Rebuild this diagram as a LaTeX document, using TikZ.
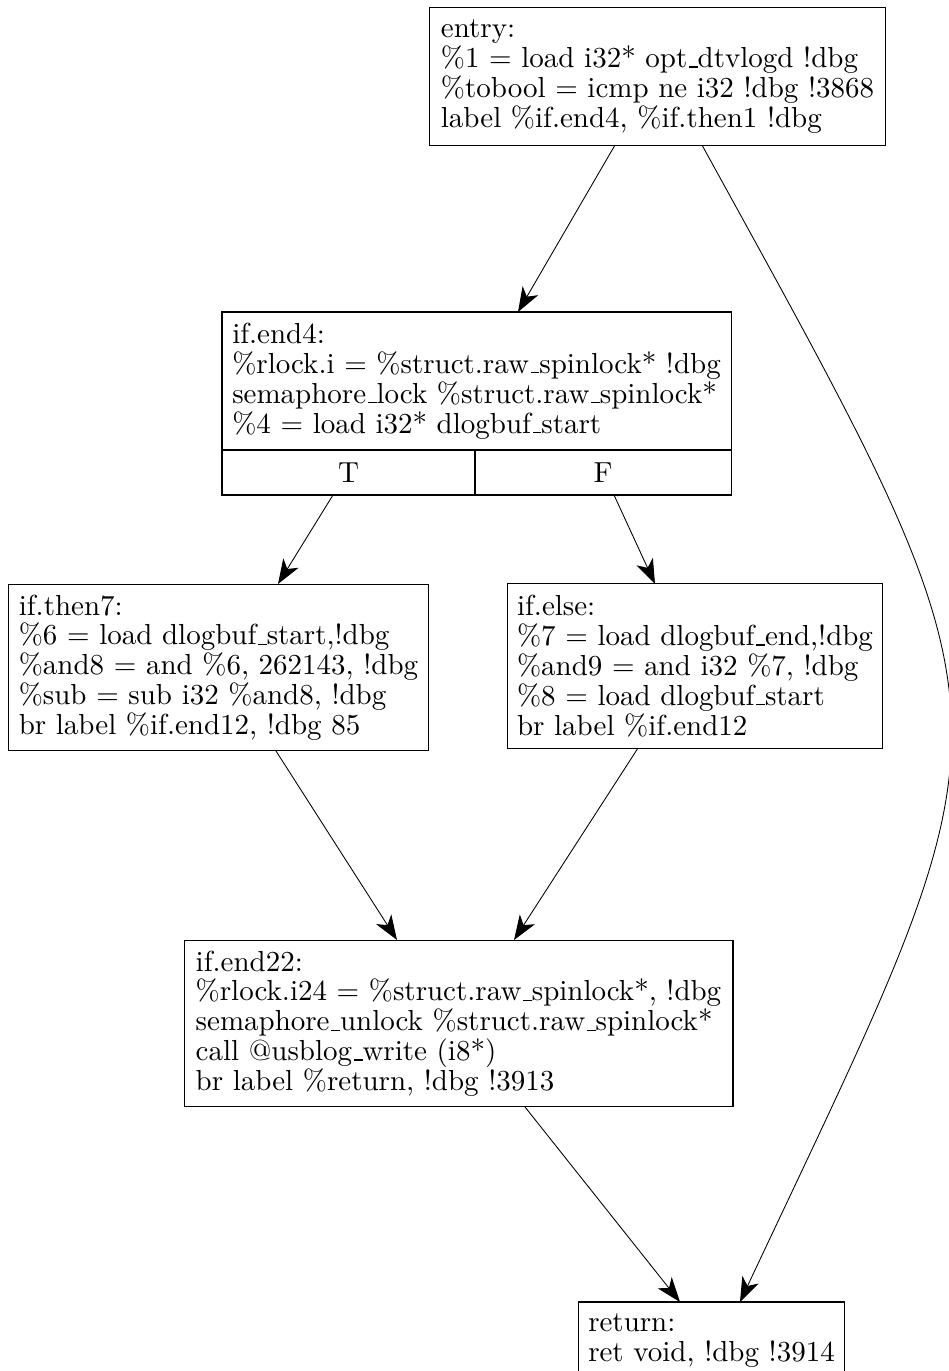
\documentclass[tikz,border=0pt]{standalone}
\usetikzlibrary{arrows.meta,calc}
% short underscore rule sitting on the baseline
\newcommand{\usc}{\leavevmode\kern.06em\vbox{\hrule width.3em}}
\begin{document}
\begin{tikzpicture}[x=0.345pt,y=-0.345pt,
  blk/.style={draw, line width=0.35pt, align=left, inner sep=0pt, outer sep=0pt,
    font=\fontsize{10}{10.3}\selectfont},
  cell/.style={draw, line width=0.35pt, inner sep=0pt, outer sep=0pt,
    font=\fontsize{10}{10.3}\selectfont},
  flow/.style={line width=0.3pt, -{Stealth[length=8.5pt,width=6.2pt,inset=2.4pt]}}
]
\useasboundingbox (0,0) rectangle (948,1371);

% basic blocks of the control-flow graph
\node[blk, minimum width=157pt, minimum height=47.3pt] (entry) at (657.5,76.5)
  {entry:\\
   \%1 = load i32* opt\usc dtvlogd !dbg\\
   \%tobool = icmp ne i32 !dbg !3868\\
   label \%if.end4, \%if.then1 !dbg};

\node[blk, minimum width=175.605pt, minimum height=47.61pt] (endfour) at (476.5,381)
  {if.end4:\\
   \%rlock.i = \%struct.raw\usc spinlock* !dbg\\
   semaphore\usc lock \%struct.raw\usc spinlock*\\
   \%4 = load i32* dlogbuf\usc start};
% true / false branch cells under the if.end4 block
\node[cell, minimum width=87.285pt, minimum height=15.525pt, anchor=north west]
  (tcell) at (endfour.south west) {T};
\node[cell, minimum width=88.32pt, minimum height=15.525pt, anchor=north west]
  (fcell) at (tcell.north east) {F};

\node[blk, minimum width=145.2pt, minimum height=57.6pt] (then) at (218.5,667.5)
  {if.then7:\\
   \%6 = load dlogbuf\usc start,!dbg\\
   \%and8 = and \%6, 262143, !dbg\\
   \%sub = sub i32 \%and8, !dbg\\
   br label \%if.end12, !dbg 85};

\node[blk, minimum width=129.7pt, minimum height=56.6pt] (else) at (695,666)
  {if.else:\\
   \%7 = load dlogbuf\usc end,!dbg\\
   \%and9 = and i32 \%7, !dbg\\
   \%8 = load dlogbuf\usc start\\
   br label \%if.end12};

\node[blk, minimum width=189.4pt, minimum height=57.6pt] (join) at (458.5,1023.5)
  {if.end22:\\
   \%rlock.i24 = \%struct.raw\usc spinlock*, !dbg\\
   semaphore\usc unlock \%struct.raw\usc spinlock*\\
   call @usblog\usc write (i8*)\\
   br label \%return, !dbg !3913};

\node[blk, minimum width=92.1pt, minimum height=26.4pt] (ret) at (711.5,1340.25)
  {return:\\
   ret void, !dbg !3914};

% control-flow edges
\draw[flow] ($(entry.south)+(-42.5,0)$) -- ($(endfour.north)+(41.5,0)$);
\draw[flow] ($(entry.south)+(44.5,0)$)
  .. controls (1032,745) and (1022,702) .. ($(ret.north)+(28.5,0)$);
\draw[flow] ($(tcell.south)+(-15.5,0)$) -- ($(then.north)+(59.5,0)$);
\draw[flow] ($(fcell.south)+(11,0)$) -- ($(else.north)+(-40,0)$);
\draw[flow] ($(then.south)+(57.5,0)$) -- ($(join.north)+(-61.5,0)$);
\draw[flow] ($(else.south)+(-57,0)$) -- ($(join.north)+(55.5,0)$);
\draw[flow] ($(join.south)+(66.5,0)$) -- ($(ret.north)+(-31.5,0)$);
\end{tikzpicture}
\end{document}
